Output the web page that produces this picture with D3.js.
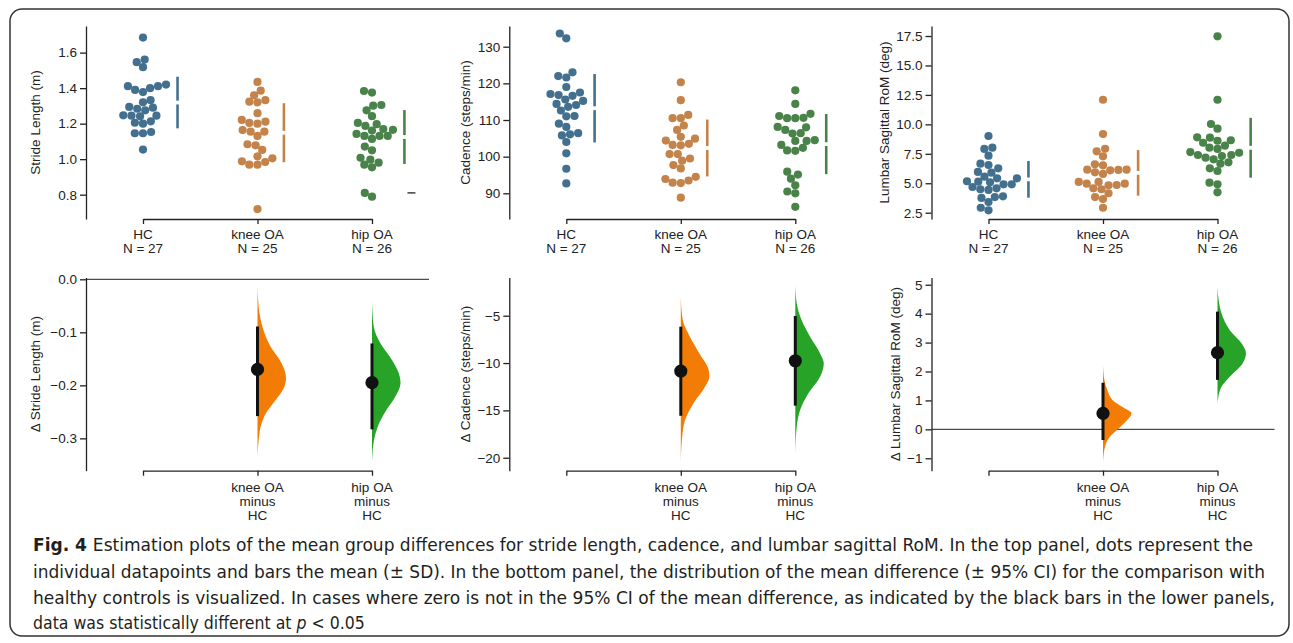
<!DOCTYPE html>
<html>
<head>
<meta charset="utf-8">
<script src="https://cdn.jsdelivr.net/npm/d3@7"></script>
<style>
  body { margin: 0; background: #fff; }
  svg { display: block; }
  text { font-family: "Liberation Sans", Arial, sans-serif; fill: #222; }
  .caption text, text.caption { font-family: "DejaVu Sans Condensed", "DejaVu Sans", sans-serif; font-stretch: condensed; fill: #231f20; }
</style>
</head>
<body>
<svg id="chart" width="1293" height="643"></svg>
<script>
// groups
const groups = ["HC", "knee OA", "hip OA"];
const diffGroups = ["knee OA", "hip OA"];

// raw datapoints
const strideHC = [1.685, 1.546, 1.561, 1.518, 1.411, 1.390, 1.378, 1.400, 1.411, 1.420, 1.332, 1.320, 1.284, 1.275, 1.290, 1.294, 1.245, 1.241, 1.245, 1.247, 1.205, 1.200, 1.213, 1.146, 1.146, 1.153, 1.054];
const strideKnee = [1.435, 1.360, 1.386, 1.324, 1.320, 1.332, 1.259, 1.211, 1.200, 1.204, 1.221, 1.164, 1.155, 1.131, 1.155, 1.078, 1.084, 1.052, 1.016, 1.005, 0.988, 0.969, 0.969, 0.984, 0.719];
const strideHip = [1.384, 1.375, 1.305, 1.275, 1.301, 1.242, 1.204, 1.187, 1.197, 1.165, 1.170, 1.161, 1.131, 1.131, 1.114, 1.131, 1.142, 1.071, 1.050, 1.008, 0.997, 0.969, 0.954, 0.980, 0.810, 0.789];

const cadenceHC = [133.6, 132.3, 122.0, 121.6, 123.0, 119.0, 117.1, 116.8, 116.6, 117.5, 115.6, 115.2, 114.4, 114.1, 113.6, 112.6, 111.0, 111.1, 109.0, 108.1, 105.8, 106.1, 106.4, 104.0, 100.9, 96.7, 92.7];
const cadenceKnee = [120.3, 115.4, 111.4, 110.5, 110.5, 108.5, 107.3, 105.4, 104.4, 103.2, 103.1, 103.5, 104.9, 100.7, 100.7, 98.9, 99.5, 97.7, 96.8, 93.9, 92.9, 92.8, 93.5, 94.5, 88.8];
const cadenceHip = [118.1, 114.4, 111.1, 110.5, 110.5, 110.6, 111.7, 108.1, 107.3, 106.3, 106.4, 108.0, 104.5, 104.3, 104.3, 103.2, 101.7, 101.6, 102.4, 95.9, 95.1, 94.0, 92.2, 90.5, 90.0, 86.3];

const lumbarHC = [9.01, 7.91, 8.02, 7.34, 6.66, 6.55, 6.27, 5.96, 5.90, 5.56, 5.42, 5.42, 4.91, 4.91, 5.13, 5.08, 5.17, 4.57, 4.43, 4.49, 4.68, 3.83, 3.75, 3.89, 3.41, 2.92, 2.70];
const lumbarKnee = [12.09, 9.18, 7.71, 7.93, 7.29, 6.52, 6.61, 6.15, 6.15, 5.93, 5.79, 6.10, 6.13, 4.96, 4.96, 4.57, 4.49, 4.83, 4.85, 5.11, 5.11, 4.15, 3.83, 3.66, 2.92];
const lumbarHip = [17.47, 12.09, 10.03, 9.63, 8.87, 8.90, 8.44, 8.61, 8.65, 8.02, 7.91, 8.19, 7.65, 7.40, 7.17, 7.03, 7.31, 7.40, 7.59, 6.78, 6.66, 6.27, 6.04, 4.91, 5.05, 4.23];

// stray short dash next to the hip OA stride swarm
const strideStray = 0.81;

// mean differences and 95% CI (vs HC)
const strideDiffMean = [-0.170, -0.195];
const strideDiffCI = [[-0.258, -0.089], [-0.283, -0.121]];
const cadenceDiffMean = [-10.85, -9.76];
const cadenceDiffCI = [[-15.57, -6.16], [-14.5, -5.03]];
const lumbarDiffMean = [0.55, 2.65];
const lumbarDiffCI = [[-0.37, 1.61], [1.71, 4.07]];

// bootstrap distributions: [difference, relative density]
const strideKneeDist = [[-0.011, 0], [-0.052, 0.04], [-0.089, 0.17], [-0.127, 0.46], [-0.152, 0.78], [-0.177, 0.98], [-0.187, 1.0], [-0.203, 0.94], [-0.228, 0.63], [-0.253, 0.29], [-0.278, 0.11], [-0.303, 0.04], [-0.335, 0]];
const strideHipDist = [[-0.042, 0], [-0.089, 0.06], [-0.121, 0.3], [-0.152, 0.7], [-0.177, 0.94], [-0.196, 1.0], [-0.221, 0.82], [-0.247, 0.5], [-0.278, 0.2], [-0.303, 0.07], [-0.344, 0]];
const cadenceKneeDist = [[-3.0, 0], [-5.46, 0.07], [-7.22, 0.32], [-8.98, 0.65], [-10.74, 0.98], [-11.45, 1.0], [-12.5, 0.85], [-14.26, 0.44], [-16.02, 0.15], [-17.78, 0.05], [-20.4, 0]];
const cadenceHipDist = [[-1.76, 0], [-3.69, 0.05], [-5.46, 0.22], [-7.22, 0.52], [-8.98, 0.87], [-10.04, 1.0], [-11.45, 0.87], [-13.2, 0.46], [-14.96, 0.17], [-16.73, 0.05], [-19.5, 0]];
const lumbarKneeDist = [[2.22, 0], [1.70, 0.05], [1.36, 0.15], [1.01, 0.34], [0.78, 0.67], [0.55, 1.0], [0.32, 0.85], [0.03, 0.55], [-0.26, 0.24], [-0.6, 0.07], [-1.12, 0]];
const lumbarHipDist = [[4.93, 0], [4.47, 0.04], [4.01, 0.14], [3.43, 0.43], [2.97, 0.85], [2.63, 1.0], [2.28, 0.88], [1.82, 0.43], [1.47, 0.14], [1.13, 0.03], [0.9, 0]];

// axis ranges and ticks
const topDomains = [[0.663, 1.750], [82.99, 135.65], [1.965, 18.35]];
const topTicks = [[0.8, 1.0, 1.2, 1.4, 1.6], [90, 100, 110, 120, 130], [2.5, 5.0, 7.5, 10.0, 12.5, 15.0, 17.5]];
const bottomDomains = [[-0.361, 0.0034], [-21.37, -0.965], [-1.43, 5.25]];
const bottomTicks = [[0, -0.1, -0.2, -0.3], [-5, -10, -15, -20], [-1, 0, 1, 2, 3, 4, 5]];
const topLabels = ["Stride Length (m)", "Cadence (steps/min)", "Lumbar Sagittal RoM (deg)"];
const bottomLabels = ["\u0394 Stride Length (m)", "\u0394 Cadence (steps/min)", "\u0394 Lumbar Sagittal RoM (deg)"];
const tickFormats = [".1f", "d", ".1f"];

const captionLines = [
  "Estimation plots of the mean group differences for stride length, cadence, and lumbar sagittal RoM. In the top panel, dots represent the",
  "individual datapoints and bars the mean (\u00b1 SD). In the bottom panel, the distribution of the mean difference (\u00b1 95% CI) for the comparison with",
  "healthy controls is visualized. In cases where zero is not in the 95% CI of the mean difference, as indicated by the black bars in the lower panels,",
  "data was statistically different at "
];

const dotColors = ["#44708f", "#c3834a", "#498349"];
const violinColors = ["#f27c05", "#27a327"];

const svg = d3.select("#chart");

svg.append("rect")
  .attr("x", 10).attr("y", 9).attr("width", 1279).attr("height", 627)
  .attr("rx", 12).attr("fill", "none").attr("stroke", "#333").attr("stroke-width", 1.5);

const axisX = [86, 509.3, 931.5];
const labelX = [35, 465.5, 884];
const labelXBottom = [35, 465.5, 895.5];
const topRange = [219, 26];
const bottomRange = [470.7, 277.5];

const rawData = [
  [strideHC, strideKnee, strideHip],
  [cadenceHC, cadenceKnee, cadenceHip],
  [lumbarHC, lumbarKnee, lumbarHip]
];
const diffMeans = [strideDiffMean, cadenceDiffMean, lumbarDiffMean];
const diffCIs = [strideDiffCI, cadenceDiffCI, lumbarDiffCI];
const diffDists = [[strideKneeDist, strideHipDist], [cadenceKneeDist, cadenceHipDist], [lumbarKneeDist, lumbarHipDist]];

// seaborn-style beeswarm
function swarm(values, y, cx, d) {
  const pts = values.map((v, i) => ({ v, i, y: y(v) }))
    .sort((a, b) => d3.ascending(a.v, b.v) || a.i - b.i);
  const placed = [];
  pts.forEach(p => {
    const nb = [];
    for (let k = placed.length - 1; k >= 0; k--) {
      if (Math.abs(placed[k].y - p.y) < d) nb.push(placed[k]); else break;
    }
    const cands = [cx];
    let leftFirst = true;
    nb.forEach(q => {
      const dy = p.y - q.y;
      const dx = Math.sqrt(Math.max(d * d - dy * dy, 0)) * 1.05;
      if (leftFirst) cands.push(q.x - dx, q.x + dx); else cands.push(q.x + dx, q.x - dx);
      leftFirst = !leftFirst;
    });
    const order = cands.map((x, k) => ({ x, k }))
      .sort((a, b) => Math.abs(a.x - cx) - Math.abs(b.x - cx) || a.k - b.k);
    const ok = order.find(c => nb.every(q => (q.x - c.x) ** 2 + (q.y - p.y) ** 2 >= d * d - 1e-6));
    p.x = ok ? ok.x : cx;
    placed.push(p);
  });
  return pts;
}

function styleAxis(g) {
  g.selectAll("path.domain").attr("stroke", "#222").attr("stroke-width", 1.3);
  g.selectAll(".tick line").attr("stroke", "#222").attr("stroke-width", 1.3);
  g.selectAll(".tick text").attr("font-size", 13.5).attr("fill", "#222")
    .attr("font-family", "'Liberation Sans', Arial, sans-serif");
}

for (let p = 0; p < 3; p++) {
  // ---------- top: swarm panels ----------
  const x = d3.scalePoint().domain(groups).range([axisX[p] + 57, axisX[p] + 286]);
  const y = d3.scaleLinear().domain(topDomains[p]).range(topRange);

  const gy = svg.append("g").attr("transform", `translate(${axisX[p]},0)`)
    .call(d3.axisLeft(y).tickValues(topTicks[p]).tickSize(6).tickPadding(3).tickSizeOuter(0)
      .tickFormat(d3.format(tickFormats[p])));
  styleAxis(gy);

  const gx = svg.append("g").attr("transform", `translate(0,${topRange[0]})`)
    .call(d3.axisBottom(x).tickSize(5).tickSizeOuter(0).tickFormat(""));
  styleAxis(gx);

  groups.forEach((g, gi) => {
    const t = svg.append("text").attr("x", x(g)).attr("y", topRange[0] + 20)
      .attr("text-anchor", "middle").attr("font-size", 13.5);
    t.append("tspan").attr("x", x(g)).text(g);
    t.append("tspan").attr("x", x(g)).attr("dy", 14).text(`N = ${rawData[p][gi].length}`);
  });

  svg.append("text")
    .attr("transform", `translate(${labelX[p]},${(topRange[0] + topRange[1]) / 2}) rotate(-90)`)
    .attr("text-anchor", "middle").attr("dy", "0.35em").attr("font-size", 13.5)
    .text(topLabels[p]);

  groups.forEach((g, gi) => {
    const vals = rawData[p][gi];
    const pts = swarm(vals, y, x(g), 7.8);
    svg.append("g").selectAll("circle").data(pts).join("circle")
      .attr("cx", d => d.x).attr("cy", d => d.y).attr("r", 4.1)
      .attr("fill", dotColors[gi]);

    const m = d3.mean(vals), sd = d3.deviation(vals);
    const bx = d3.max(pts, d => d.x) + 11.5;
    const gap = 1.9;
    [[y(m + sd), y(m) - gap], [y(m) + gap, y(m - sd)]].forEach(seg => {
      svg.append("line").attr("x1", bx).attr("x2", bx)
        .attr("y1", seg[0]).attr("y2", seg[1])
        .attr("stroke", dotColors[gi]).attr("stroke-width", 2.6);
    });
    if (p === 0 && gi === 2) {
      svg.append("line").attr("x1", bx + 3).attr("x2", bx + 11)
        .attr("y1", y(strideStray)).attr("y2", y(strideStray))
        .attr("stroke", "#222").attr("stroke-width", 1.3);
    }
  });

  // ---------- bottom: mean difference panels ----------
  const yb = d3.scaleLinear().domain(bottomDomains[p]).range(bottomRange);
  const fmtB = p === 0 ? d3.format(".1f") : d3.format("d");

  const gyb = svg.append("g").attr("transform", `translate(${axisX[p]},0)`)
    .call(d3.axisLeft(yb).tickValues(bottomTicks[p]).tickSize(6).tickPadding(3).tickSizeOuter(0)
      .tickFormat(fmtB));
  styleAxis(gyb);

  const gxb = svg.append("g").attr("transform", `translate(0,${bottomRange[0]})`)
    .call(d3.axisBottom(x).tickSize(5).tickSizeOuter(0).tickFormat(""));
  styleAxis(gxb);

  if (yb.domain()[0] < 0 && yb.domain()[1] >= 0) {
    svg.append("line").attr("x1", axisX[p]).attr("x2", axisX[p] + 343)
      .attr("y1", yb(0)).attr("y2", yb(0))
      .attr("stroke", "#222").attr("stroke-width", 1);
  }

  diffGroups.forEach(g => {
    const t = svg.append("text").attr("x", x(g)).attr("y", bottomRange[0] + 21)
      .attr("text-anchor", "middle").attr("font-size", 13.5);
    ["" + g, "minus", "HC"].forEach((s, k) => {
      t.append("tspan").attr("x", x(g)).attr("dy", k === 0 ? 0 : 14.2).text(s);
    });
  });

  svg.append("text")
    .attr("transform", `translate(${labelXBottom[p]},${(bottomRange[0] + bottomRange[1]) / 2}) rotate(-90)`)
    .attr("text-anchor", "middle").attr("dy", "0.35em").attr("font-size", 13.5)
    .text(bottomLabels[p]);

  const w = d3.scaleLinear().domain([0, 1]).range([0, 28.5]);
  diffGroups.forEach((g, k) => {
    const cx = x(g);
    const area = d3.area()
      .y(d => yb(d[0]))
      .x0(cx)
      .x1(d => cx + w(d[1]))
      .curve(d3.curveMonotoneY);
    svg.append("path").datum(diffDists[p][k])
      .attr("d", area).attr("fill", violinColors[k]);

    svg.append("line").attr("x1", cx).attr("x2", cx)
      .attr("y1", yb(diffCIs[p][k][0])).attr("y2", yb(diffCIs[p][k][1]))
      .attr("stroke", "#111").attr("stroke-width", 3);
    svg.append("circle").attr("cx", cx).attr("cy", yb(diffMeans[p][k])).attr("r", 6.6)
      .attr("fill", "#111");
  });
}

// ---------- caption ----------
const capX = 33;
const capBase = [551, 578, 604, 629];
const capWidths = [1220, 1232, 1242];
const cap = svg.append("g").attr("class", "caption").attr("font-size", 17.5);

captionLines.forEach((line, i) => {
  const t = cap.append("text").attr("x", capX).attr("y", capBase[i]);
  if (i < 3) t.attr("textLength", capWidths[i]).attr("lengthAdjust", "spacingAndGlyphs");
  if (i === 0) {
    t.append("tspan").attr("font-weight", "bold").text("Fig. 4 ");
  }
  t.append("tspan").text(line);
  if (i === 3) {
    t.append("tspan").attr("font-style", "italic").text("p");
    t.append("tspan").text(" < 0.05");
  }
});
</script>
</body>
</html>
